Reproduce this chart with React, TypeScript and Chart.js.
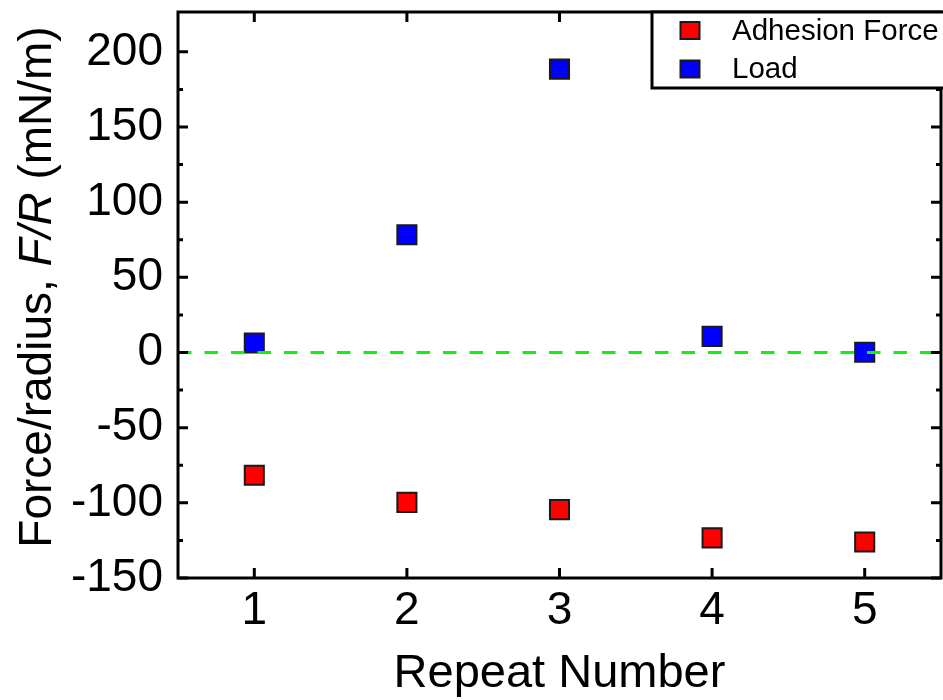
import React, { useEffect, useRef } from "react";
import { Chart, registerables } from "chart.js";

Chart.register(...registerables);

// Repeat measurements: adhesion force and applied load, normalised by radius (mN/m)
const repeatNumbers = [1, 2, 3, 4, 5];
const adhesionForce = [-81.7, -99.7, -104.5, -123.3, -126.1];
const load = [6.3, 78.3, 188.5, 10.7, 0.2];

const xTicks = [1, 2, 3, 4, 5];
const yTicks = [-150, -100, -50, 0, 50, 100, 150, 200];
const yMinorTicks = [-125, -75, -25, 25, 75, 125, 175];
const xRange = [0.5, 5.5];
const yRange = [-150, 226.5];
const zeroLevel = 0;

const seriesNames = ["Adhesion Force", "Load"];
const seriesColors = ["#ff0000", "#0000ff"];
const markerEdge = "#1a1a1a";
const zeroColor = "#12f012";

const FONT = "'Liberation Sans', Arial, sans-serif";

const noScalePadding = (s: any) => {
  s.paddingTop = 0;
  s.paddingBottom = 0;
  s.paddingLeft = 0;
  s.paddingRight = 0;
};

const framePlugin = {
  id: "frameAndAnnotations",
  afterDatasetsDraw(chart: any) {
    const { ctx, chartArea: a, scales } = chart;
    const xs = scales.x;
    const ys = scales.y;
    ctx.save();
    ctx.strokeStyle = "#000";
    ctx.lineCap = "butt";
    ctx.lineWidth = 3;
    ctx.beginPath();
    for (const v of yTicks) {
      const py = ys.getPixelForValue(v);
      ctx.moveTo(a.left, py);
      ctx.lineTo(a.left + 10, py);
      ctx.moveTo(a.right, py);
      ctx.lineTo(a.right - 10, py);
    }
    for (const v of yMinorTicks) {
      const py = ys.getPixelForValue(v);
      ctx.moveTo(a.left, py);
      ctx.lineTo(a.left + 5, py);
      ctx.moveTo(a.right, py);
      ctx.lineTo(a.right - 5, py);
    }
    for (const v of xTicks) {
      const px = xs.getPixelForValue(v);
      ctx.moveTo(px, a.bottom);
      ctx.lineTo(px, a.bottom - 10);
      ctx.moveTo(px, a.top);
      ctx.lineTo(px, a.top + 10);
    }
    ctx.stroke();
    ctx.strokeRect(a.left, a.top, a.right - a.left, a.bottom - a.top);
    ctx.restore();
  },
  afterDraw(chart: any) {
    const { ctx, chartArea: a } = chart;
    ctx.save();

    // Legend box in the upper-right corner
    const boxLeft = a.right - 289;
    const boxTop = a.top;
    ctx.fillStyle = "#fff";
    ctx.fillRect(boxLeft, boxTop, 310, 76);
    ctx.strokeStyle = "#000";
    ctx.lineWidth = 3;
    ctx.strokeRect(boxLeft, boxTop, 310, 76);
    const rows = [boxTop + 18.5, boxTop + 57];
    ctx.font = `29.5px ${FONT}`;
    ctx.textBaseline = "middle";
    ctx.textAlign = "left";
    seriesNames.forEach((name, i) => {
      const cy = rows[i];
      const cx = boxLeft + 38;
      ctx.fillStyle = seriesColors[i];
      ctx.fillRect(cx - 9.5, cy - 8.5, 19, 17);
      ctx.strokeStyle = markerEdge;
      ctx.lineWidth = 2;
      ctx.strokeRect(cx - 9.5, cy - 8.5, 19, 17);
      ctx.fillStyle = "#000";
      ctx.fillText(name, boxLeft + 80, cy + 1);
    });

    // X axis title
    ctx.fillStyle = "#000";
    ctx.font = `47px ${FONT}`;
    ctx.textAlign = "center";
    ctx.textBaseline = "alphabetic";
    ctx.fillText("Repeat Number", (a.left + a.right) / 2, 687);

    // Y axis title with italic F/R
    const segs: [string, boolean][] = [
      ["Force/radius, ", false],
      ["F/R", true],
      [" (mN/m)", false],
    ];
    const fontFor = (it: boolean) => `${it ? "italic " : ""}46px ${FONT}`;
    let total = 0;
    const widths = segs.map(([t, it]) => {
      ctx.font = fontFor(it);
      const w = ctx.measureText(t).width;
      total += w;
      return w;
    });
    ctx.translate(51, 287);
    ctx.rotate(-Math.PI / 2);
    ctx.textAlign = "left";
    let x = -total / 2;
    segs.forEach(([t, it], i) => {
      ctx.font = fontFor(it);
      ctx.fillText(t, x, 0);
      x += widths[i];
    });
    ctx.restore();
  },
};

export default function App() {
  const canvasRef = useRef<HTMLCanvasElement | null>(null);

  useEffect(() => {
    if (!canvasRef.current) return;
    const pointStyle = (i: number) => ({
      pointStyle: "rect" as const,
      pointRadius: 13.5,
      pointBackgroundColor: seriesColors[i],
      pointBorderColor: markerEdge,
      pointBorderWidth: 2,
      backgroundColor: seriesColors[i],
      borderColor: markerEdge,
      showLine: false,
    });
    const chart = new Chart(canvasRef.current, {
      type: "scatter",
      data: {
        datasets: [
          {
            label: "zero",
            data: [
              { x: xRange[0], y: zeroLevel },
              { x: xRange[1], y: zeroLevel },
            ],
            showLine: true,
            borderColor: zeroColor,
            borderWidth: 3,
            borderDash: [13.5, 13],
            pointRadius: 0,
            order: 0,
          } as any,
          {
            label: seriesNames[0],
            data: repeatNumbers.map((x, i) => ({ x, y: adhesionForce[i] })),
            ...pointStyle(0),
            order: 2,
          },
          {
            label: seriesNames[1],
            data: repeatNumbers.map((x, i) => ({ x, y: load[i] })),
            ...pointStyle(1),
            order: 1,
          },
        ],
      },
      options: {
        responsive: true,
        maintainAspectRatio: false,
        animation: false,
        events: [],
        layout: { autoPadding: false, padding: { top: 12, right: 2, left: 0, bottom: 0 } },
        plugins: {
          legend: { display: false },
          tooltip: { enabled: false },
        },
        scales: {
          x: {
            type: "linear",
            min: xRange[0],
            max: xRange[1],
            grid: { display: false, drawTicks: false },
            border: { display: false },
            afterBuildTicks: (s: any) => {
              s.ticks = xTicks.map((v) => ({ value: v }));
            },
            afterFit: (s: any) => {
              s.height = 122;
              noScalePadding(s);
            },
            ticks: {
              font: { family: FONT, size: 46 },
              color: "#000",
              padding: 6,
              maxRotation: 0,
              autoSkip: false,
              callback: (v: any) => String(v),
            },
          },
          y: {
            type: "linear",
            min: yRange[0],
            max: yRange[1],
            grid: { display: false, drawTicks: false },
            border: { display: false },
            afterBuildTicks: (s: any) => {
              s.ticks = yTicks.map((v) => ({ value: v }));
            },
            afterFit: (s: any) => {
              s.width = 178;
              noScalePadding(s);
            },
            ticks: {
              font: { family: FONT, size: 46 },
              color: "#000",
              padding: 15,
              autoSkip: false,
              callback: (v: any) => String(v),
            },
          },
        },
      },
      plugins: [framePlugin],
    });
    return () => chart.destroy();
  }, []);

  return (
    <div style={{ position: "absolute", left: 0, top: 0, width: 943, height: 700, background: "#fff" }}>
      <canvas ref={canvasRef} />
    </div>
  );
}
